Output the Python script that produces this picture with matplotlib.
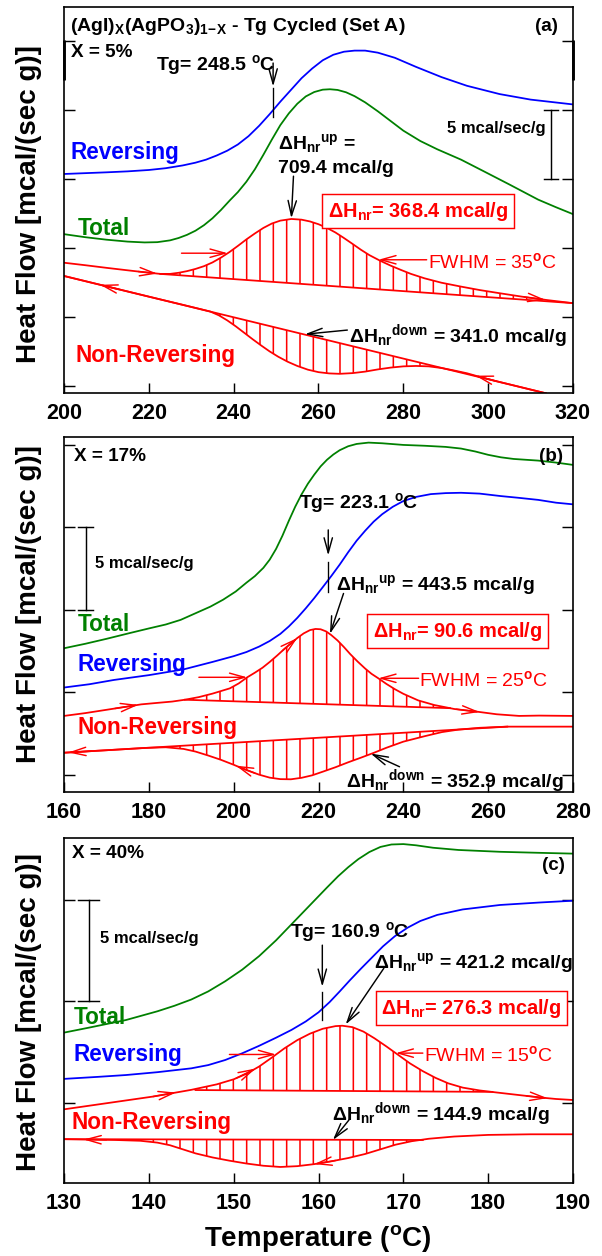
import numpy as np
import matplotlib
matplotlib.use("Agg")
import matplotlib.pyplot as plt

# ---------------- data ----------------
# Panel (a): X = 5 %
a_rev_T = [200, 205, 210, 215, 220, 224, 228, 231, 233.5, 236, 238.5, 241, 243.5, 246, 248.5, 251, 253.5,
           256, 258.5, 261, 263.5, 266, 268.5, 271, 274, 278, 283, 289, 295, 302.7, 310, 320]
a_rev_y = [15.36, 15.42, 15.48, 15.55, 15.65, 15.78, 15.98, 16.18, 16.4, 16.7, 17.05, 17.5, 18.1, 18.85,
           19.7, 20.6, 21.45, 22.3, 23.0, 23.6, 24.0, 24.22, 24.3, 24.3, 24.15, 23.78, 23.12, 22.38, 21.75,
           21.15, 20.75, 20.4]
a_tot_T = [200, 205, 210, 215, 219, 222, 225, 227, 229, 231, 233, 235, 237, 239.1, 241, 243, 245, 247, 249,
           251, 253, 255, 257, 259, 261, 262.7, 264.5, 266.5, 268.5, 271, 274, 277, 280, 284, 288, 293.6,
           299, 305, 311.8, 316, 320]
a_tot_y = [11.0, 10.78, 10.6, 10.46, 10.4, 10.42, 10.55, 10.72, 10.95, 11.25, 11.65, 12.15, 12.75, 13.45,
           14.05, 14.8, 15.7, 16.75, 17.85, 18.9, 19.75, 20.45, 20.98, 21.3, 21.47, 21.5, 21.45, 21.28, 21.0,
           20.55, 19.9, 19.2, 18.5, 17.75, 17.15, 16.4, 15.55, 14.6, 13.5, 12.95, 12.45]
a_up_T = [200, 205, 210, 215, 219, 222.7, 225, 227, 229, 231, 233, 235, 237, 239, 241, 243, 245, 247, 249,
          251, 253.6, 256, 258, 260, 262, 264, 266, 268, 270, 272, 274.5, 277, 279.5, 281.8, 285, 289, 293.6,
          298, 302.7, 308, 314, 320]
a_up_y = [8.93, 8.75, 8.56, 8.38, 8.24, 8.12, 8.12, 8.2, 8.32, 8.48, 8.68, 8.95, 9.3, 9.7, 10.15, 10.62,
          11.05, 11.45, 11.77, 11.98, 12.1, 12.05, 11.92, 11.72, 11.45, 11.12, 10.72, 10.3, 9.87, 9.48, 9.08,
          8.72, 8.4, 8.12, 7.8, 7.48, 7.2, 6.95, 6.72, 6.47, 6.22, 6.0]
a_upbase_T = [222.7, 320]
a_upbase_y = [8.12, 6.0]
a_dn_T = [200, 210, 220, 228, 232, 234.5, 236.5, 238.5, 240.5, 242.5, 244.5, 246.5, 248.5, 250.5, 252.7,
          255, 257.5, 260, 262.5, 265, 268, 271, 274, 277, 280, 283, 286, 289, 292, 295, 298, 302, 306, 313.6]
a_dn_y = [7.97, 7.22, 6.47, 5.88, 5.58, 5.39, 5.12, 4.75, 4.32, 3.85, 3.38, 2.93, 2.5, 2.12, 1.76, 1.45,
          1.18, 1.0, 0.91, 0.88, 0.93, 1.04, 1.2, 1.33, 1.42, 1.45, 1.42, 1.3, 1.12, 0.92, 0.66, 0.34, 0.04,
          -0.53]
a_dnbase_T = [200, 313.6]
a_dnbase_y = [7.97, -0.53]

# Panel (b): X = 17 %
b_tot_T = [160, 165, 170, 175.5, 180, 184, 187.5, 191, 194.5, 197.5, 200.5, 203, 205, 207, 208.5, 210,
           211.5, 213, 214.5, 216, 217.5, 219, 220.5, 222, 223.5, 225, 227, 229, 231.8, 235, 240, 245, 250,
           253.6, 257, 260, 263, 266, 271.8, 276, 280]
b_tot_y = [7.68, 7.95, 8.25, 8.6, 8.88, 9.12, 9.4, 9.8, 10.2, 10.62, 11.12, 11.65, 12.05, 12.55, 13.05,
           13.7, 14.5, 15.4, 16.25, 17.0, 17.65, 18.2, 18.7, 19.1, 19.42, 19.68, 19.92, 20.06, 20.14, 20.1,
           20.0, 19.95, 19.88, 19.78, 19.6, 19.4, 19.25, 19.15, 19.05, 18.93, 18.79]
b_rev_T = [160, 166, 171.8, 180, 188.2, 195, 200, 203, 206, 208.5, 211, 213, 215, 217, 219, 221, 223, 225,
           227, 229, 231, 233, 235, 237.5, 240, 243, 246.5, 250, 253.6, 258, 263, 267, 271.8, 276, 280]
b_rev_y = [5.3, 5.5, 5.76, 6.05, 6.4, 6.85, 7.2, 7.45, 7.78, 8.12, 8.55, 9.0, 9.52, 10.1, 10.72, 11.38,
           12.05, 12.75, 13.5, 14.2, 14.8, 15.35, 15.8, 16.25, 16.6, 16.85, 17.02, 17.08, 17.1, 17.05, 16.9,
           16.8, 16.67, 16.5, 16.4]
b_up_T = [160, 165, 170, 175, 178.2, 182, 185.5, 188.5, 191.8, 195, 199.1, 201.2, 203.2, 205, 206.8, 208.5,
          210.3, 212, 213.6, 215, 216.5, 218, 219.3, 220.5, 221.8, 223, 224.5, 226, 227.5, 229.2, 231, 232.5,
          234.1, 236, 238, 240, 243.5, 247.3, 252, 257.3, 262, 267.3, 272, 280]
b_up_y = [3.58, 3.75, 3.95, 4.15, 4.28, 4.37, 4.45, 4.56, 4.72, 4.93, 5.25, 5.55, 5.92, 6.2, 6.5, 6.85,
          7.25, 7.65, 8.0, 8.3, 8.58, 8.78, 8.85, 8.83, 8.7, 8.48, 8.15, 7.75, 7.32, 6.88, 6.45, 6.13, 5.86,
          5.52, 5.2, 4.92, 4.52, 4.24, 4.0, 3.84, 3.68, 3.58, 3.6, 3.58]
b_upbase_T = [188.5, 251]
b_upbase_y = [4.56, 4.05]
b_dn_T = [160, 170, 179.1, 184, 188.2, 191, 194, 197, 200, 203, 206, 208.5, 211, 213.5, 216, 218.5, 221,
          224, 227, 230, 233, 236, 240, 245, 249.1, 253, 258, 264.5, 270, 280]
b_dn_y = [1.35, 1.5, 1.64, 1.68, 1.58, 1.42, 1.18, 0.92, 0.62, 0.3, 0.02, -0.16, -0.25, -0.26, -0.17, -0.02,
          0.2, 0.47, 0.77, 1.05, 1.34, 1.65, 2.02, 2.35, 2.6, 2.75, 2.86, 2.93, 2.93, 2.93]
b_dnbase_T = [160, 264.5]
b_dnbase_y = [1.35, 2.93]

# Panel (c): X = 40 %
c_tot_T = [130, 133, 137.3, 141, 143, 145, 147, 149, 151, 153, 155, 156.5, 158, 159.5, 161, 162.3, 163.5,
           164.7, 166, 167.3, 168.6, 170, 171.5, 173.5, 176.5, 181.4, 186, 190]
c_tot_y = [3.45, 3.7, 4.07, 4.5, 4.77, 5.08, 5.48, 5.98, 6.55, 7.22, 8.0, 8.65, 9.3, 9.95, 10.6, 11.15,
           11.6, 12.0, 12.35, 12.6, 12.72, 12.74, 12.68, 12.56, 12.45, 12.36, 12.31, 12.27]
c_rev_T = [130, 134, 137.3, 141, 145, 147, 149, 151, 153, 155, 156.8, 158.5, 160, 161.3, 162.5, 163.7, 165,
           166.3, 167.6, 169, 170.5, 172, 174, 177, 181.4, 186, 190]
c_rev_y = [1.17, 1.27, 1.36, 1.5, 1.69, 1.85, 2.1, 2.43, 2.8, 3.2, 3.58, 4.0, 4.45, 4.95, 5.48, 6.03, 6.6,
           7.15, 7.7, 8.2, 8.62, 8.95, 9.25, 9.52, 9.74, 9.86, 9.95]
c_up_T = [130, 135, 140.5, 145, 148, 150, 151.5, 153, 154.5, 156, 157.5, 159, 160.5, 162, 162.8, 164, 165.3,
          166.6, 168, 169.4, 170.8, 172.3, 173.8, 175.3, 177, 179, 181, 183.5, 186, 188, 190]
c_up_y = [-0.33, -0.03, 0.3, 0.63, 0.9, 1.15, 1.42, 1.78, 2.22, 2.68, 3.08, 3.4, 3.64, 3.77, 3.79, 3.72,
          3.5, 3.17, 2.77, 2.35, 1.93, 1.55, 1.22, 0.95, 0.74, 0.6, 0.5, 0.38, 0.26, 0.18, 0.13]
c_upbase_T = [145.5, 180.5]
c_upbase_y = [0.62, 0.53]
c_dn_T = [130, 136, 139, 141, 142.5, 144, 145.5, 147.5, 149.5, 151.5, 153.5, 155.5, 157.5, 159.5, 161.4,
          163.5, 165.5, 167.3, 169.1, 171, 173, 176, 180, 185, 190]
c_dn_y = [-1.8, -1.84, -1.88, -1.97, -2.1, -2.3, -2.5, -2.7, -2.86, -3.0, -3.11, -3.17, -3.13, -3.03, -2.9,
          -2.73, -2.53, -2.3, -2.07, -1.9, -1.78, -1.67, -1.59, -1.56, -1.56]
c_dnbase_T = [130, 172.3]
c_dnbase_y = [-1.80, -1.84]

# labels / values
x_labels_a = [200, 220, 240, 260, 280, 300, 320]
x_labels_b = [160, 180, 200, 220, 240, 260, 280]
x_labels_c = [130, 140, 150, 160, 170, 180, 190]
compositions = ['X = 5%', 'X = 17%', 'X = 40%']
panel_tags = ['(a)', '(b)', '(c)']
tg_values = ['248.5', '223.1', '160.9']
dh_up = ['709.4', '443.5', '421.2']
dh_down = ['341.0', '352.9', '144.9']
dh_nr = ['368.4', '90.6', '276.3']
fwhm = ['35', '25', '15']

# ---------------- style ----------------
BLUE, GREEN, RED = '#0000FF', '#008000', '#FF0000'
plt.rcParams.update({
    'font.family': ['Liberation Sans', 'DejaVu Sans'],
    'font.weight': 'bold',
    'mathtext.fontset': 'custom',
    'mathtext.rm': 'Liberation Sans',
    'mathtext.bf': 'Liberation Sans:bold',
    'mathtext.it': 'Liberation Sans:italic',
    'hatch.color': RED,
    'hatch.linewidth': 1.4,
    'lines.solid_joinstyle': 'round',
})
DPI = 80
fig = plt.figure(figsize=(602 / DPI, 1256 / DPI), dpi=DPI)

L, W = 64 / 602, (573 - 64) / 602
def frac(top, bottom):
    return [L, 1 - bottom / 1256, W, (bottom - top) / 1256]

ax_a = fig.add_axes(frac(7, 393))
ax_b = fig.add_axes(frac(437, 792))
ax_c = fig.add_axes(frac(838, 1183))

LW = 1.6
FS_LBL = 20.3
FS_ANN = 17.5

def setup(ax, xlim, ylim, xt, yt):
    ax.set_xlim(xlim)
    ax.set_ylim(ylim)
    ax.set_xticks(xt)
    ax.set_yticks(yt)
    ax.tick_params(axis='x', direction='in', length=9, width=1.3, labelsize=19.5, pad=9)
    ax.tick_params(axis='y', direction='in', length=10, width=1.3, left=True, right=True,
                   labelleft=False)
    for s in ax.spines.values():
        s.set_linewidth(1.5)

def arrow(ax, tail, tip, color='k', lw=1.3, ms=15, hl=0.9, hw=0.25):
    ax.annotate('', xy=tip, xytext=tail,
                arrowprops=dict(arrowstyle=f'->,head_length={hl},head_width={hw}', color=color,
                                lw=lw, shrinkA=0, shrinkB=0, mutation_scale=ms))

def curve_arrow(ax, T, Y, t_tail, t_tip, color=RED):
    arrow(ax, (t_tail, np.interp(t_tail, T, Y)), (t_tip, np.interp(t_tip, T, Y)), color=color)

def fwhm_arrow(ax, T, Y, t_tail, t_tip):
    y = np.interp(t_tip, T, Y)
    arrow(ax, (t_tail, y), (t_tip, y), color=RED)
    return y

def hatch_between(ax, T, Y, bT, bY, lo, hi):
    T = np.asarray(T, float)
    base = np.interp(T, bT, bY)
    m = (T >= lo) & (T <= hi)
    ax.fill_between(T, Y, base, where=m, interpolate=True, facecolor='none', edgecolor=RED,
                    hatch='|', linewidth=0)

def txt(ax, x, y, s, color='k', size=FS_ANN, ha='left', weight='bold', **kw):
    return ax.text(x, y, s, color=color, fontsize=size, ha=ha, va='center_baseline',
                   fontweight=weight, **kw)

def nr_block(ax, d):
    ax.plot(d['upT'], d['upY'], color=RED, lw=LW)
    ax.plot(d['ubT'], d['ubY'], color=RED, lw=LW)
    ax.plot(d['dnT'], d['dnY'], color=RED, lw=LW)
    ax.plot(d['dbT'], d['dbY'], color=RED, lw=LW)
    hatch_between(ax, d['upT'], d['upY'], d['ubT'], d['ubY'], *d['uh'])
    hatch_between(ax, d['dnT'], d['dnY'], d['dbT'], d['dbY'], *d['dh'])

def scale_bar(ax, x, x0, x1, y0, y1):
    ax.plot([x, x], [y0, y1], color='k', lw=1.3)
    ax.plot([x0, x1], [y0, y0], color='k', lw=1.3)
    ax.plot([x0, x1], [y1, y1], color='k', lw=1.3)

def dh_up_text(v):
    return r'$\mathrm{\Delta}$H$_\mathbf{nr}$$^\mathbf{up}$ = ' + v + ' mcal/g'

def dh_dn_text(v):
    return r'$\mathrm{\Delta}$H$_\mathbf{nr}$$^\mathbf{down}$ = ' + v + ' mcal/g'

def dh_box(ax, x, y, v):
    ax.text(x, y, r'$\mathrm{\Delta}$H$_\mathbf{nr}$= ' + v + ' mcal/g', color=RED, fontsize=18,
            ha='center', va='center_baseline', fontweight='bold',
            bbox=dict(boxstyle='square,pad=0.28', fc='white', ec=RED, lw=1.3))

def tg_text(v):
    return 'Tg= ' + v + r' $^\mathbf{o}$C'

def fwhm_text(v):
    return 'FWHM = ' + v + r'$^\mathrm{o}$C'

# ---------------- panel (a) ----------------
ax = ax_a
setup(ax, (200, 320), (-0.51, 27.46), x_labels_a, [0, 5, 10, 15, 20, 25])
ax.plot(a_rev_T, a_rev_y, color=BLUE, lw=LW)
ax.plot(a_tot_T, a_tot_y, color=GREEN, lw=LW)
nr_block(ax, dict(upT=a_up_T, upY=a_up_y, ubT=a_upbase_T, ubY=a_upbase_y, uh=(224, 316),
                  dnT=a_dn_T, dnY=a_dn_y, dbT=a_dnbase_T, dbY=a_dnbase_y, dh=(234.5, 297)))
curve_arrow(ax, a_up_T, a_up_y, 217.5, 222)
curve_arrow(ax, a_up_T, a_up_y, 308.5, 313.5)
curve_arrow(ax, a_dn_T, a_dn_y, 213, 208.5)
curve_arrow(ax, a_dn_T, a_dn_y, 302, 297)
txt(ax, 201.4, 26.3, r'(AgI)$_\mathbf{X}$(AgPO$_\mathbf{3}$)$_\mathbf{1\!-\!X}$ - Tg Cycled (Set A)', size=17.5)
txt(ax, 201.6, 24.3, compositions[0], size=17)
txt(ax, 316.4, 26.2, panel_tags[0], size=17, ha='right')
txt(ax, 221.8, 23.5, tg_text(tg_values[0]))
arrow(ax, (249.3, 23.4), (249.3, 21.7))
ax.plot([249.3, 249.3], [21.6, 19.5], color='k', lw=1.2)
txt(ax, 201.6, 17.1, 'Reversing', BLUE, FS_LBL)
txt(ax, 203.2, 11.6, 'Total', GREEN, FS_LBL)
txt(ax, 202.7, 2.4, 'Non-Reversing', RED, FS_LBL)
txt(ax, 250.5, 17.8, r'$\mathrm{\Delta}$H$_\mathbf{nr}$$^\mathbf{up}$ =')
txt(ax, 250.5, 15.9, dh_up[0] + ' mcal/g')
arrow(ax, (254.1, 15.2), (253.6, 12.15))
dh_box(ax, 283.4, 12.87, dh_nr[0])
fwhm_arrow(ax, a_up_T, a_up_y, 227.7, 238.6)
yf = fwhm_arrow(ax, a_up_T, a_up_y, 285.5, 274.1)
txt(ax, 285.9, yf, fwhm_text(fwhm[0]), RED, 17.5, weight='normal')
txt(ax, 267.3, 3.93, dh_dn_text(dh_down[0]))
arrow(ax, (266.8, 4.05), (256.8, 3.75))
scale_bar(ax, 314.8, 313.2, 316.4, 15, 20)
txt(ax, 313.6, 18.8, '5 mcal/sec/g', size=15, ha='right')
for xs in (0, 1):
    ax.plot([xs, xs], [22.2, 25.1], color='k', lw=2.6, transform=ax.get_yaxis_transform(),
            clip_on=False, solid_capstyle='butt')

# ---------------- panel (b) ----------------
ax = ax_b
setup(ax, (160, 280), (-1.03, 20.48), x_labels_b, [0, 5, 10, 15, 20])
ax.plot(b_tot_T, b_tot_y, color=GREEN, lw=LW)
ax.plot(b_rev_T, b_rev_y, color=BLUE, lw=LW)
nr_block(ax, dict(upT=b_up_T, upY=b_up_y, ubT=b_upbase_T, ubY=b_upbase_y, uh=(189, 251),
                  dnT=b_dn_T, dnY=b_dn_y, dbT=b_dnbase_T, dbY=b_dnbase_y, dh=(185, 252)))
curve_arrow(ax, b_up_T, b_up_y, 172, 177.5)
curve_arrow(ax, b_up_T, b_up_y, 211.5, 215)
curve_arrow(ax, b_up_T, b_up_y, 252.5, 258)
curve_arrow(ax, b_dn_T, b_dn_y, 166.5, 161)
curve_arrow(ax, b_dn_T, b_dn_y, 205, 200.5)
txt(ax, 162.3, 19.4, compositions[1], size=17)
txt(ax, 277.6, 19.4, panel_tags[1], size=17, ha='right')
txt(ax, 215.5, 16.67, tg_text(tg_values[1]))
arrow(ax, (222.3, 14.85), (222.3, 13.3))
ax.plot([222.3, 222.3], [12.9, 11.1], color='k', lw=1.2)
txt(ax, 224.1, 11.7, dh_up_text(dh_up[1]))
arrow(ax, (225.9, 11.0), (222.7, 8.55))
dh_box(ax, 252.8, 8.9, dh_nr[1])
txt(ax, 163.2, 9.3, 'Total', GREEN, FS_LBL)
txt(ax, 163.2, 6.87, 'Reversing', BLUE, FS_LBL)
txt(ax, 163.2, 3.03, 'Non-Reversing', RED, FS_LBL)
fwhm_arrow(ax, b_up_T, b_up_y, 191.8, 203.2)
yf = fwhm_arrow(ax, b_up_T, b_up_y, 243.6, 234.1)
txt(ax, 243.8, yf, fwhm_text(fwhm[1]), RED, 17.5, weight='normal')
txt(ax, 226.4, -0.1, dh_dn_text(dh_down[1]))
arrow(ax, (239.1, 0.5), (232.3, 1.3))
scale_bar(ax, 165.3, 163.2, 166.8, 10, 15)
txt(ax, 167.3, 12.9, '5 mcal/sec/g', size=15)

# ---------------- panel (c) ----------------
ax = ax_c
setup(ax, (130, 190), (-3.96, 13.04), x_labels_c, [0, 5, 10])
ax.plot(c_tot_T, c_tot_y, color=GREEN, lw=LW)
ax.plot(c_rev_T, c_rev_y, color=BLUE, lw=LW)
nr_block(ax, dict(upT=c_up_T, upY=c_up_y, ubT=c_upbase_T, ubY=c_upbase_y, uh=(146, 180),
                  dnT=c_dn_T, dnY=c_dn_y, dbT=c_dnbase_T, dbY=c_dnbase_y, dh=(140, 172)))
curve_arrow(ax, c_up_T, c_up_y, 140.5, 143.2)
curve_arrow(ax, c_up_T, c_up_y, 150.3, 152.6)
curve_arrow(ax, c_up_T, c_up_y, 184.5, 187)
curve_arrow(ax, c_dn_T, c_dn_y, 135, 132.3)
curve_arrow(ax, c_dn_T, c_dn_y, 162, 159.5)
txt(ax, 131.0, 12.36, compositions[2], size=17)
txt(ax, 189.1, 11.79, panel_tags[2], size=17, ha='right')
scale_bar(ax, 132.9, 131.6, 134.1, 5, 10)
txt(ax, 134.3, 8.18, '5 mcal/sec/g', size=15)
txt(ax, 156.6, 8.59, tg_text(tg_values[2]))
arrow(ax, (160.45, 7.76), (160.45, 5.71))
ax.plot([160.45, 160.45], [5.47, 4.07], color='k', lw=1.2)
txt(ax, 166.6, 7.03, dh_up_text(dh_up[2]))
arrow(ax, (167.7, 6.62), (163.2, 3.85))
dh_box(ax, 178.05, 4.81, dh_nr[2])
txt(ax, 131.1, 4.32, 'Total', GREEN, FS_LBL)
txt(ax, 131.1, 2.51, 'Reversing', BLUE, FS_LBL)
txt(ax, 130.9, -0.85, 'Non-Reversing', RED, FS_LBL)
fwhm_arrow(ax, c_up_T, c_up_y, 149.5, 155)
yf = fwhm_arrow(ax, c_up_T, c_up_y, 172.3, 169.1)
txt(ax, 172.4, yf, fwhm_text(fwhm[2]), RED, 17.5, weight='normal')
txt(ax, 161.6, -0.36, dh_dn_text(dh_down[2]))
arrow(ax, (163.6, -0.85), (161.7, -1.84))

# ---------------- axis labels ----------------
for yc in (1 - 204 / 1256, 1 - 604 / 1256, 1 - 1012 / 1256):
    fig.text(29 / 602, yc, 'Heat Flow [mcal/(sec g)]', rotation=90, ha='center', va='center',
             fontsize=25, fontweight='bold')
fig.text(318 / 602, 1 - 1238 / 1256, r'Temperature ($^\mathbf{o}$C)', ha='center', va='center',
         fontsize=25, fontweight='bold')

fig.savefig('out.png', dpi=DPI)
